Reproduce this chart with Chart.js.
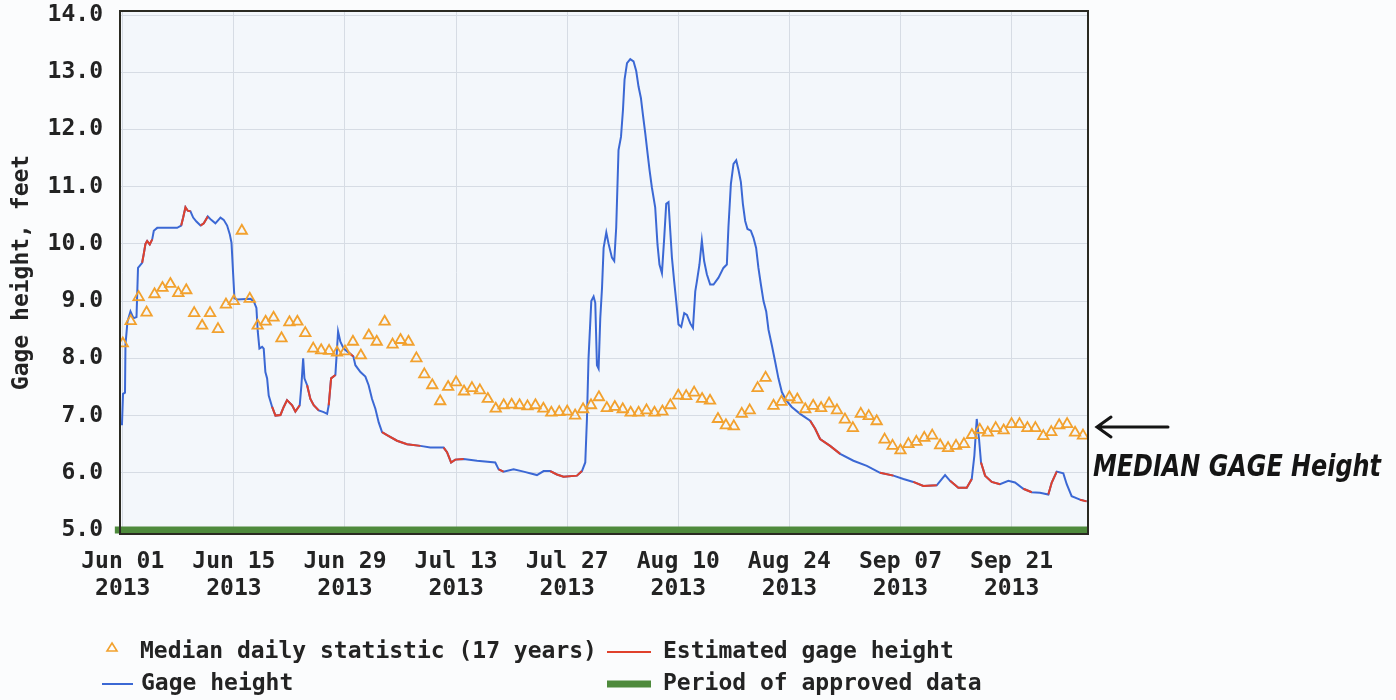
<!DOCTYPE html>
<html>
<head>
<meta charset="utf-8">
<script src="https://cdn.jsdelivr.net/npm/chart.js@4.4.0/dist/chart.umd.min.js"></script>
<style>
  html, body { margin: 0; padding: 0; background: #fbfcfd; }
  #wrap { position: relative; width: 1396px; height: 700px; }
</style>
</head>
<body>
<div id="wrap"><canvas id="chart" width="1396" height="700"></canvas></div>
<script>
// Gage height, Jun 01 - Sep 30 2013 (x = days since Jun 01)

// median daily statistic (17 years), one value per day from Jun 01
const medianFt = [
  8.26, 8.65, 9.07, 8.80, 9.12, 9.23, 9.30, 9.14, 9.19, 8.79, 8.57, 8.79, 8.51, 8.94, 9.00,
  10.23, 9.04, 8.57, 8.64, 8.71, 8.35, 8.63, 8.64, 8.44, 8.17, 8.14, 8.13, 8.10, 8.12, 8.29,
  8.05, 8.40, 8.29, 8.64, 8.24, 8.32, 8.29, 8.00, 7.72, 7.53, 7.25, 7.50, 7.58, 7.42, 7.48,
  7.44, 7.29, 7.12, 7.18, 7.19, 7.18, 7.16, 7.18, 7.12, 7.05, 7.06, 7.07, 7.00, 7.11, 7.18, 7.32,
  7.13, 7.15, 7.11, 7.05, 7.05, 7.09, 7.05, 7.07, 7.18, 7.35, 7.34, 7.40, 7.29, 7.26, 6.94,
  6.83, 6.81, 7.03, 7.09, 7.48, 7.66, 7.17, 7.24, 7.32, 7.28, 7.11, 7.17, 7.13, 7.21, 7.09, 6.93,
  6.78, 7.03, 6.99, 6.90, 6.58, 6.47, 6.39, 6.50, 6.54, 6.61, 6.65, 6.48, 6.43, 6.47, 6.50,
  6.66, 6.75, 6.70, 6.78, 6.74, 6.85, 6.85, 6.78, 6.78, 6.64, 6.71, 6.83, 6.85, 6.70, 6.65
];

// gage height readings
const gageDay = [
  -0.29, -0.10, 0.03, 0.28, 0.34, 0.59, 0.97, 1.35, 1.73, 1.92, 2.44, 2.64, 2.86, 3.07, 3.40,
  3.71, 3.91, 4.34, 6.85, 7.36, 7.61, 7.90, 8.19, 8.53, 8.87, 9.28, 9.79, 10.21, 10.71, 11.14,
  11.67, 12.31, 12.72, 13.15, 13.48, 13.70, 13.91, 14.07, 14.41, 16.09, 16.50, 16.84, 17.01, 17.22, 17.56,
  17.76, 17.97, 18.19, 18.39, 18.82, 19.24, 19.87, 20.28, 20.70, 21.34, 21.75, 22.30, 22.51, 22.73, 22.89,
  23.23, 23.64, 24.06, 24.69, 25.32, 25.75, 25.95, 26.25, 26.79, 27.00, 27.13, 27.42, 27.84, 28.47, 29.06,
  29.31, 29.95, 30.57, 30.98, 31.41, 31.83, 32.25, 32.67, 33.30, 34.56, 35.82, 37.50, 38.75, 40.43, 40.86,
  41.37, 41.90, 42.95, 44.64, 46.94, 47.36, 47.98, 49.25, 50.51, 52.19, 53.03, 53.86, 54.71, 55.54, 57.23,
  57.86, 58.28, 58.49, 58.69, 59.04, 59.33, 59.54, 59.75, 59.96, 60.17, 60.39, 60.59, 60.93, 61.22, 61.64,
  61.93, 62.18, 62.47, 62.78, 63.03, 63.23, 63.54, 63.95, 64.36, 64.70, 64.99, 65.29, 65.55, 65.84, 66.13,
  66.38, 66.67, 67.09, 67.38, 67.63, 67.94, 68.23, 68.48, 68.77, 68.99, 69.20, 69.48, 69.74, 70.03, 70.37,
  70.75, 71.09, 71.51, 71.85, 72.14, 72.35, 72.67, 72.97, 73.26, 73.60, 74.02, 74.44, 75.07, 75.69, 76.12,
  76.32, 76.63, 76.96, 77.30, 77.59, 77.89, 78.14, 78.43, 78.72, 79.14, 79.47, 79.81, 80.10, 80.41, 80.74,
  81.08, 81.37, 81.79, 82.21, 82.62, 83.05, 83.59, 84.30, 85.35, 86.62, 87.25, 87.87, 89.13, 90.40, 92.07,
  93.76, 95.43, 97.11, 98.37, 99.62, 100.88, 102.57, 103.20, 103.62, 104.25, 105.29, 106.35, 106.98, 107.31, 107.61,
  107.90, 108.15, 108.66, 109.50, 110.54, 111.59, 112.43, 113.48, 114.54, 115.58, 116.63, 117.06, 117.69, 118.52, 118.95,
  119.57, 120.62, 121.46
];
const gageFt = [
  6.85, 6.85, 7.38, 7.40, 8.24, 8.64, 8.82, 8.70, 8.72, 9.58, 9.67, 9.82, 10.00, 10.05, 9.99,
  10.08, 10.23, 10.28, 10.28, 10.32, 10.46, 10.64, 10.58, 10.57, 10.46, 10.39, 10.32, 10.36, 10.48, 10.42,
  10.36, 10.46, 10.42, 10.32, 10.17, 10.02, 9.47, 9.05, 9.03, 9.04, 9.00, 8.88, 8.47, 8.17, 8.20,
  8.17, 7.76, 7.65, 7.35, 7.15, 7.00, 7.01, 7.15, 7.27, 7.18, 7.07, 7.18, 7.53, 8.00, 7.65,
  7.53, 7.29, 7.18, 7.09, 7.06, 7.03, 7.18, 7.65, 7.71, 8.17, 8.47, 8.29, 8.17, 8.10, 8.03,
  7.88, 7.76, 7.68, 7.53, 7.29, 7.12, 6.88, 6.71, 6.66, 6.56, 6.50, 6.47, 6.44, 6.44, 6.36,
  6.18, 6.23, 6.24, 6.21, 6.18, 6.06, 6.02, 6.06, 6.02, 5.96, 6.03, 6.03, 5.97, 5.93, 5.95,
  6.03, 6.18, 6.94, 8.00, 9.00, 9.08, 8.97, 7.88, 7.82, 8.70, 9.23, 9.93, 10.20, 10.00, 9.76,
  9.70, 10.29, 11.64, 11.87, 12.34, 12.87, 13.16, 13.23, 13.19, 13.02, 12.75, 12.55, 12.25, 11.93, 11.58,
  11.29, 10.99, 10.64, 9.99, 9.64, 9.49, 10.11, 10.70, 10.73, 10.23, 9.76, 9.35, 9.00, 8.59, 8.55,
  8.79, 8.76, 8.61, 8.53, 9.17, 9.35, 9.64, 10.06, 9.70, 9.47, 9.29, 9.29, 9.41, 9.58, 9.64,
  10.29, 11.05, 11.40, 11.46, 11.29, 11.08, 10.70, 10.40, 10.26, 10.23, 10.11, 9.93, 9.58, 9.29, 9.00,
  8.82, 8.50, 8.23, 7.94, 7.65, 7.41, 7.27, 7.15, 7.03, 6.91, 6.77, 6.59, 6.47, 6.33, 6.21,
  6.12, 6.00, 5.95, 5.89, 5.84, 5.77, 5.78, 5.89, 5.96, 5.86, 5.74, 5.74, 5.89, 6.30, 6.94,
  6.59, 6.18, 5.95, 5.84, 5.80, 5.86, 5.83, 5.72, 5.66, 5.65, 5.62, 5.83, 6.02, 5.99, 5.80,
  5.59, 5.53, 5.50
];

// periods where the gage height is estimated [startDay, endDay]
const estimatedSpans = [
  [2.3, 3.8], [7.3, 8.8], [9.6, 11.1], [18.6, 22.4], [22.9, 24.7], [25.9, 26.9], [28.3, 29.1],
  [32.4, 38.6], [39.5, 44.1], [47.3, 48.2], [53.8, 58.2], [86.5, 90.5], [95.4, 97.7], [99.1, 102.7],
  [104.2, 107.0], [108.1, 110.6], [113.1, 114.7], [115.7, 118.0], [120.6, 121.6]
];

// period of approved data [startDay, endDay]
const approvedSpan = [-1, 122];

const xTickDays = [0, 14, 28, 42, 56, 70, 84, 98, 112];
const xTickLabels = [
  ['Jun 01', '2013'], ['Jun 15', '2013'], ['Jun 29', '2013'], ['Jul 13', '2013'], ['Jul 27', '2013'],
  ['Aug 10', '2013'], ['Aug 24', '2013'], ['Sep 07', '2013'], ['Sep 21', '2013']
];
const yTicks = [5, 6, 7, 8, 9, 10, 11, 12, 13, 14];

// colours
const colorGage = '#3b68d4';
const colorEstimated = '#e0412c';
const colorMedian = '#f2a12e';
const colorApproved = '#4e8a3c';
const textColor = '#232323';
const monoFont = "'DejaVu Sans Mono', monospace";

function isEstimated(day) {
  return estimatedSpans.some(s => day >= s[0] && day <= s[1]);
}

const gagePoints = gageDay.map((d, i) => ({ x: d, y: gageFt[i] }));
const estimatedPoints = gageDay.map((d, i) => ({ x: d, y: isEstimated(d) ? gageFt[i] : null }));
const medianPoints = medianFt.map((v, i) => ({ x: i, y: v }));
const approvedPoints = approvedSpan.map(d => ({ x: d, y: 5.0 }));

// plot background, frame, legend and the hand-written note
const decorPlugin = {
  id: 'decor',
  beforeDraw(chart) {
    const { ctx, chartArea: a } = chart;
    ctx.save();
    ctx.fillStyle = '#f3f7fb';
    ctx.fillRect(a.left, a.top, a.right - a.left, a.bottom - a.top);
    ctx.restore();
  },
  afterDraw(chart) {
    const { ctx, chartArea: a } = chart;
    ctx.save();
    ctx.strokeStyle = '#2a2a22';
    ctx.lineWidth = 2;
    ctx.strokeRect(a.left, a.top, a.right - a.left, a.bottom - a.top);

    // legend
    ctx.font = "bold 23px " + monoFont;
    ctx.fillStyle = textColor;
    ctx.textBaseline = 'middle';
    ctx.textAlign = 'left';
    const ds = chart.data.datasets;

    // median triangle
    ctx.strokeStyle = colorMedian;
    ctx.lineWidth = 1.6;
    ctx.beginPath();
    ctx.moveTo(112, 643);
    ctx.lineTo(117, 651);
    ctx.lineTo(107, 651);
    ctx.closePath();
    ctx.stroke();
    ctx.fillText(ds[0].label, 140, 652);

    ctx.strokeStyle = colorEstimated;
    ctx.lineWidth = 2;
    ctx.beginPath();
    ctx.moveTo(607, 652);
    ctx.lineTo(651, 652);
    ctx.stroke();
    ctx.fillText(ds[1].label, 663, 652);

    ctx.strokeStyle = colorGage;
    ctx.beginPath();
    ctx.moveTo(102, 684);
    ctx.lineTo(133, 684);
    ctx.stroke();
    ctx.fillText(ds[2].label, 141, 684);

    ctx.strokeStyle = colorApproved;
    ctx.lineWidth = 7;
    ctx.beginPath();
    ctx.moveTo(607, 684);
    ctx.lineTo(651, 684);
    ctx.stroke();
    ctx.fillText(ds[3].label, 663, 684);

    // note with arrow
    ctx.strokeStyle = '#151515';
    ctx.lineWidth = 3;
    ctx.lineCap = 'round';
    ctx.beginPath();
    ctx.moveTo(1168, 427);
    ctx.lineTo(1097, 427);
    ctx.moveTo(1111, 417);
    ctx.lineTo(1097, 427);
    ctx.lineTo(1111, 437);
    ctx.stroke();
    ctx.fillStyle = '#151515';
    ctx.font = "italic bold 30px 'Liberation Sans Narrow', 'DejaVu Sans Condensed', sans-serif";
    ctx.textBaseline = 'alphabetic';
    ctx.fillText('MEDIAN GAGE Height', 1093, 476, 288);
    ctx.restore();
  }
};

const ctx = document.getElementById('chart').getContext('2d');
new Chart(ctx, {
  type: 'line',
  data: {
    datasets: [
      {
        label: 'Median daily statistic (17 years)',
        data: medianPoints,
        showLine: false,
        pointStyle: 'triangle',
        pointRadius: 6,
        pointBorderWidth: 1.8,
        pointBorderColor: colorMedian,
        pointBackgroundColor: 'rgba(255,255,255,0)',
        borderColor: colorMedian
      },
      {
        label: 'Estimated gage height',
        data: estimatedPoints,
        borderColor: colorEstimated,
        borderWidth: 2,
        pointRadius: 0,
        spanGaps: false,
        tension: 0
      },
      {
        label: 'Gage height',
        data: gagePoints,
        borderColor: colorGage,
        borderWidth: 2,
        pointRadius: 0,
        tension: 0
      },
      {
        label: 'Period of approved data',
        data: approvedPoints,
        borderColor: colorApproved,
        borderWidth: 7,
        pointRadius: 0,
        clip: { left: 7, top: 0, right: 0, bottom: 0 }
      }
    ]
  },
  options: {
    responsive: false,
    animation: false,
    events: [],
    layout: { padding: { left: 0, top: 11, right: 308, bottom: 86 } },
    plugins: { legend: { display: false }, tooltip: { enabled: false } },
    scales: {
      x: {
        type: 'linear',
        min: -0.35,
        max: 121.63,
        afterBuildTicks: (scale) => { scale.ticks = xTickDays.map(v => ({ value: v })); },
        afterFit: (scale) => {
          scale.height = 80;
          scale.paddingLeft = 0;
          scale.paddingRight = 0;
        },
        grid: { color: '#d6dce4', lineWidth: 1, drawTicks: false },
        border: { display: false },
        ticks: {
          autoSkip: false,
          maxRotation: 0,
          padding: 14,
          color: textColor,
          font: { family: monoFont, size: 23, weight: 'bold', lineHeight: 1.18 },
          callback: (value) => {
            const i = xTickDays.indexOf(value);
            return i >= 0 ? xTickLabels[i] : '';
          }
        }
      },
      y: {
        min: 4.93,
        max: 14.07,
        afterBuildTicks: (scale) => { scale.ticks = yTicks.map(v => ({ value: v })); },
        afterFit: (scale) => {
          scale.width = 120;
          scale.paddingTop = 0;
          scale.paddingBottom = 0;
        },
        grid: { color: '#d6dce4', lineWidth: 1, drawTicks: false },
        border: { display: false },
        ticks: {
          padding: 17,
          color: textColor,
          font: { family: monoFont, size: 23, weight: 'bold' },
          callback: (value) => Number(value).toFixed(1)
        },
        title: {
          display: true,
          text: 'Gage height, feet',
          color: textColor,
          font: { family: monoFont, size: 23, weight: 'bold' },
          padding: { top: 8, bottom: 0 }
        }
      }
    }
  },
  plugins: [decorPlugin]
});
</script>
</body>
</html>
